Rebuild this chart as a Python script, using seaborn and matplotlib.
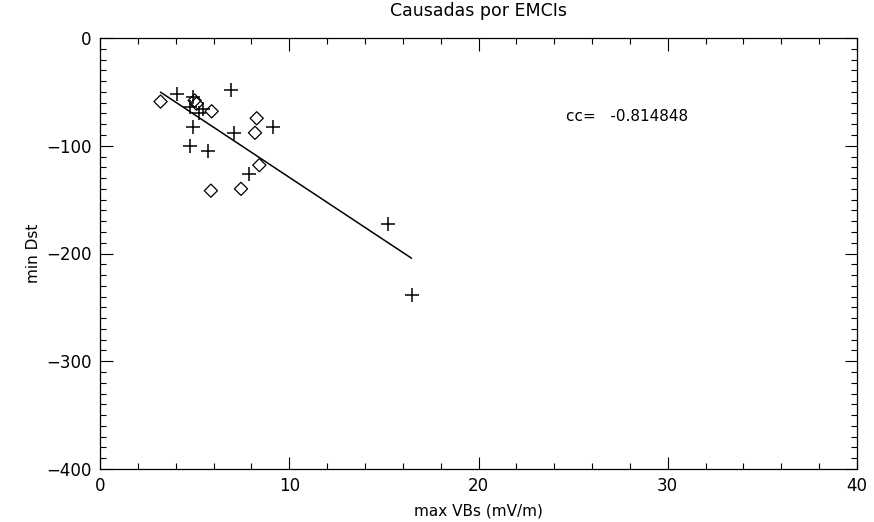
import numpy as np
import pandas as pd
import matplotlib
matplotlib.use("Agg")
import matplotlib.pyplot as plt
import seaborn as sns
from matplotlib.ticker import MultipleLocator

sns.set_theme(style="white")
plt.rcParams['font.family'] = ['DejaVu Sans']
plt.rcParams['text.color'] = 'black'
plt.rcParams['axes.labelcolor'] = 'black'
plt.rcParams['xtick.color'] = 'black'
plt.rcParams['ytick.color'] = 'black'

plus_x = [4.05, 4.93, 6.9, 4.75, 5.25, 5.45, 4.9, 9.16, 7.08, 4.75, 5.69, 7.89, 15.23, 16.46]
plus_y = [-52, -55, -48, -64, -70, -66, -83, -83, -88, -100, -105, -126, -172.6, -238.5]
diam_x = [3.2, 5.0, 5.1, 5.9, 8.28, 8.19, 8.42, 5.86, 7.45]
diam_y = [-59, -58, -61, -68, -74.5, -88, -118, -141.7, -140]

cc_text = "cc=   -0.814848"
title = "Causadas por EMCIs"
xlabel = "max VBs (mV/m)"
ylabel = "min Dst"

df = pd.DataFrame({
    "x": plus_x + diam_x,
    "y": plus_y + diam_y,
    "kind": ["plus"] * len(plus_x) + ["diam"] * len(diam_x),
})

fig = plt.figure(figsize=(8.74, 5.22), dpi=100)
ax = fig.add_axes([100/874, 1 - 469/522, 757/874, 431/522])

sns.scatterplot(data=df[df.kind == "plus"], x="x", y="y", marker="+", s=110,
                color="black", linewidth=1.1, ax=ax, legend=False)
sns.scatterplot(data=df[df.kind == "diam"], x="x", y="y", marker="D", s=45,
                facecolor="none", edgecolor="black", linewidth=0.9, ax=ax, legend=False)

# regression line over data range
allx = np.array(df.x)
ally = np.array(df.y)
m, b = np.polyfit(allx, ally, 1)
lx = np.array([allx.min(), allx.max()])
sns.lineplot(x=lx, y=m * lx + b, color="black", linewidth=1.1, ax=ax)

ax.set_xlim(0, 40)
ax.set_ylim(-400, 0)
ax.xaxis.set_major_locator(MultipleLocator(10))
ax.xaxis.set_minor_locator(MultipleLocator(2))
ax.yaxis.set_major_locator(MultipleLocator(100))
ax.yaxis.set_minor_locator(MultipleLocator(10))
ax.tick_params(which="both", direction="in", top=True, right=True, left=True, bottom=True,
               color="black", labelsize=12, width=0.8)
ax.tick_params(which="major", length=9, pad=6)
ax.tick_params(which="minor", length=4)
for sp in ax.spines.values():
    sp.set_color("black")
    sp.set_linewidth(0.9)

ax.set_title(title, fontsize=12.5, pad=16, color="black")
ax.set_xlabel(xlabel, fontsize=11, labelpad=6)
ax.set_ylabel(ylabel, fontsize=11, labelpad=4)
ax.text(24.6, -73, cc_text, fontsize=11, va="center", ha="left", color="black")

fig.savefig("out.png", dpi=100, facecolor="white")
